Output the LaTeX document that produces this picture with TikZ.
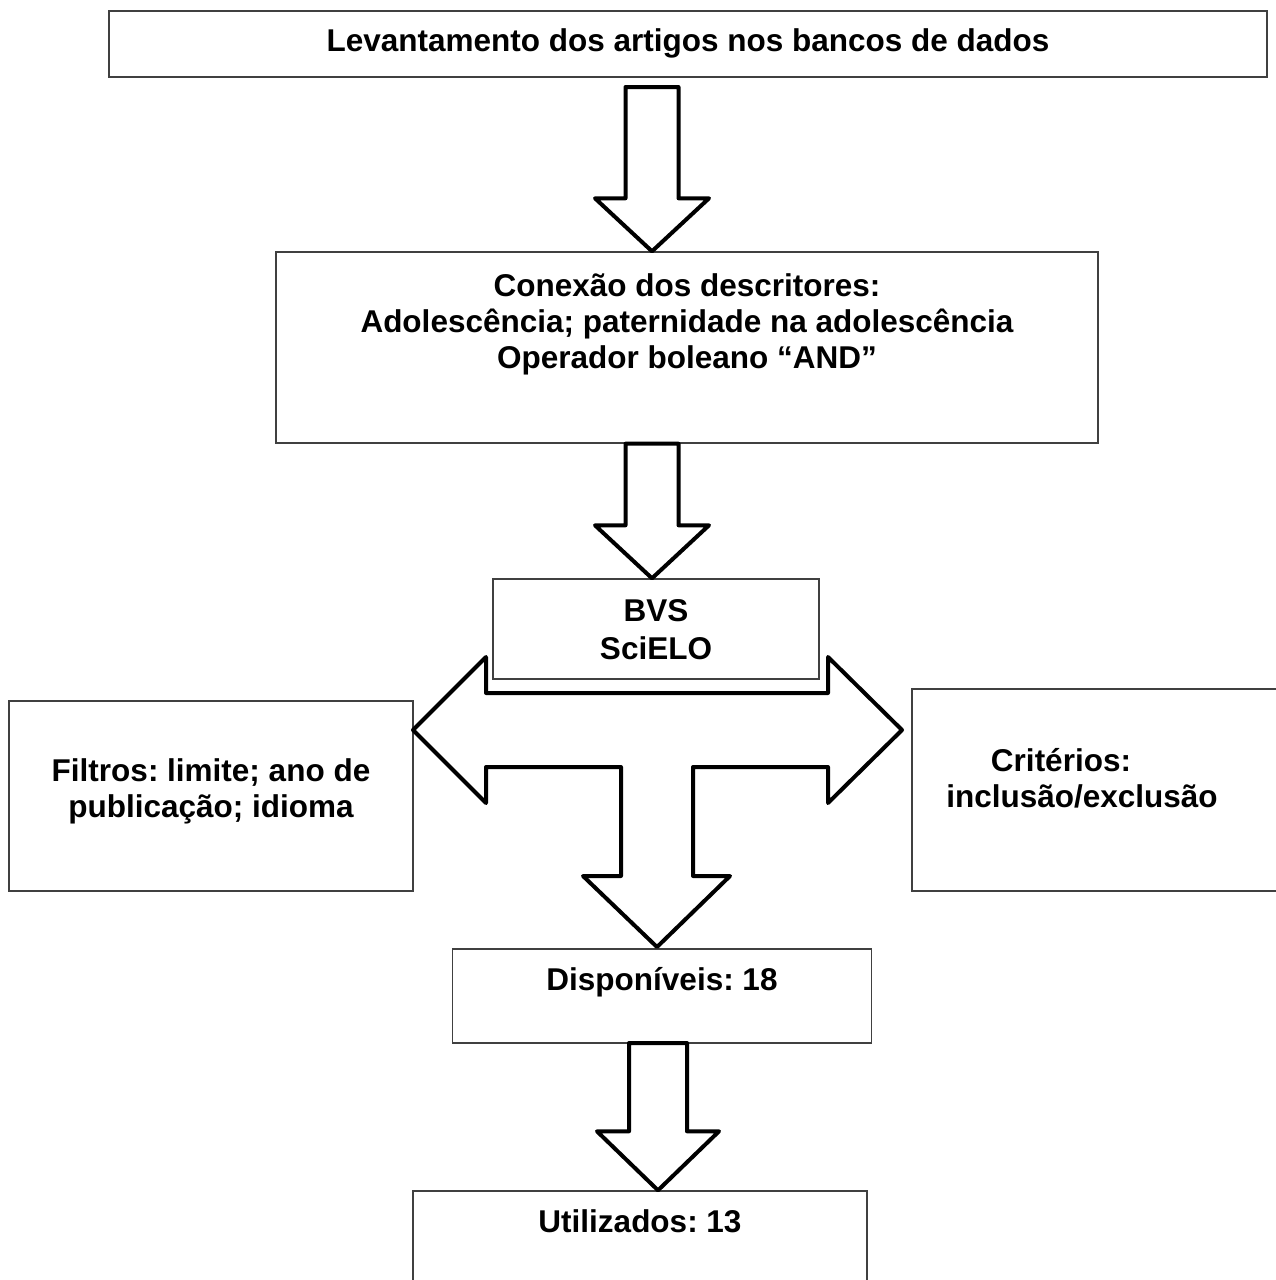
\documentclass[tikz,border=0pt]{standalone}
\usepackage{fontspec}
\setmainfont{Liberation Sans}
\usepackage{tikz}
\usetikzlibrary{
    calc,
    positioning
}
\frenchspacing
\tikzset{
    % Plain outline box, text hung from its last baseline
    stepframe/.style={
        rectangle,
        draw=black!75,
        line width=1.4pt,
        fill=white,
        font=\fontsize{31.5}{36}\selectfont\bfseries,
        align=center,
        inner sep=0pt,
        anchor=base
    },
    % Outline of the hollow block arrows
    blockline/.style={
        draw=black,
        line width=4pt,
        line join=round,
        fill=white
    },
    % Hollow arrow pointing down: half shaft, half head, head length
    hollowdown/.style n args={3}{
        blockline,
        to path={let \p1=(\tikztostart), \p2=(\tikztotarget) in
            (\x1-#1,\y1) -- (\x1+#1,\y1) -- (\x1+#1,\y2+#3) -- (\x1+#2,\y2+#3)
            -- (\x2,\y2) -- (\x1-#2,\y2+#3) -- (\x1-#1,\y2+#3) -- cycle}
    }
}

\begin{document}
\begin{tikzpicture}[x=1pt,y=-1pt]
    \useasboundingbox (0,0) rectangle (1276,1280);
    \clip (0,0) rectangle (1276,1280);

    \node[stepframe, minimum width=1158pt, text height=40pt, text depth=26pt] (levant) at (688,51) {Levantamento dos artigos nos bancos de dados};
    \node[stepframe, minimum width=822pt, text height=116pt, text depth=75pt] (conex) at (687,368) {Conexão dos descritores:\\ Adolescência; paternidade na adolescência\\ Operador boleano “AND”};
    \node[stepframe, minimum width=326pt, text height=80pt, text depth=20pt] (bvs) at (656,659) {BVS\\[2pt] SciELO};

    \node[stepframe, minimum width=404pt, text height=116pt, text depth=74pt] (filtros) at (211,817) {Filtros: limite; ano de\\ publicação; idioma};
    \node[stepframe, minimum width=378pt, text height=118pt, text depth=84pt] (crit) at (1101,807) {Critérios:\hspace*{80pt}\\ inclusão/exclusão\hspace*{38pt}};

    \node[stepframe, minimum width=419pt, text height=41pt, text depth=53pt] (disp) at (662,990) {Disponíveis: 18};
    \node[stepframe, minimum width=454pt, text height=41pt, text depth=80pt] (util) at (640,1232) {Utilizados: 13};

    % arrows between the boxes
    \coordinate (a1-top) at (652,87);
    \coordinate (a3-top) at (658,1043);
    \draw[hollowdown={26.5}{57}{53}] (a1-top) to (a1-top |- conex.north);
    \draw[hollowdown={26.5}{57}{53}] (a1-top |- conex.south) to (a1-top |- bvs.north);
    \draw[hollowdown={29}{61}{59}] (a3-top) to (a3-top |- util.north);

    % three way arrow under the data bases
    \draw[blockline] (486,693) -- (828,693) -- (828,657) -- (902,730) -- (828,803) -- (828,767)
        -- (693,767) -- (693,876) -- (730,876) -- (657,947) -- (583,876) -- (621,876) -- (621,767)
        -- (486,767) -- (486,803) -- (413,730) -- (486,657) -- cycle;
\end{tikzpicture}
\end{document}
